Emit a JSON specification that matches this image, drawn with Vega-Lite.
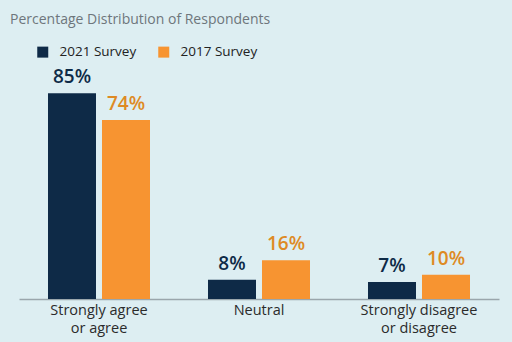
{
  "$schema": "https://vega.github.io/schema/vega-lite/v6.json",
  "width": 480,
  "height": 242,
  "autosize": {"type": "none"},
  "padding": {"left": 19, "top": 57, "right": 13, "bottom": 43},
  "background": "#DDEEF2",
  "title": {
    "text": "Percentage Distribution of Respondents",
    "anchor": "start",
    "frame": "group",
    "dx": -9,
    "offset": 18,
    "font": "Open Sans",
    "fontSize": 14,
    "fontWeight": "normal",
    "color": "#6E767C"
  },
  "data": {
    "values": [
      {"category": "Strongly agree|or agree", "survey": "2021 Survey", "value": 0.85},
      {"category": "Strongly agree|or agree", "survey": "2017 Survey", "value": 0.74},
      {"category": "Neutral", "survey": "2021 Survey", "value": 0.08},
      {"category": "Neutral", "survey": "2017 Survey", "value": 0.16},
      {"category": "Strongly disagree|or disagree", "survey": "2021 Survey", "value": 0.07},
      {"category": "Strongly disagree|or disagree", "survey": "2017 Survey", "value": 0.10}
    ]
  },
  "encoding": {
    "x": {
      "field": "category",
      "type": "nominal",
      "sort": null,
      "scale": {"paddingInner": 0, "paddingOuter": 0},
      "axis": {
        "title": null,
        "labelAngle": 0,
        "labelExpr": "split(datum.value, '|')",
        "labelFont": "Open Sans",
        "labelFontSize": 14.5,
        "labelColor": "#2B2B2B",
        "labelLineHeight": 18,
        "labelPadding": 4,
        "ticks": false,
        "domainColor": "#9AA6AC",
        "domainWidth": 1.5
      }
    },
    "xOffset": {
      "field": "survey",
      "type": "nominal",
      "sort": ["2021 Survey", "2017 Survey"],
      "scale": {"paddingInner": 0.111, "paddingOuter": 0.537}
    },
    "y": {
      "field": "value",
      "type": "quantitative",
      "scale": {"domain": [0, 1]},
      "axis": null
    }
  },
  "layer": [
    {
      "mark": {"type": "bar"},
      "encoding": {
        "color": {
          "field": "survey",
          "type": "nominal",
          "scale": {"domain": ["2021 Survey", "2017 Survey"], "range": ["#0E2A47", "#F79431"]},
          "legend": {
            "title": null,
            "orient": "none",
            "legendX": 17,
            "legendY": -12,
            "direction": "horizontal",
            "symbolType": "square",
            "symbolSize": 121,
            "symbolStrokeWidth": 0,
            "labelFont": "Open Sans",
            "labelFontSize": 13.5,
            "labelColor": "#222222",
            "labelOffset": 10,
            "columnPadding": 20
          }
        }
      }
    },
    {
      "mark": {"type": "text", "baseline": "bottom", "dy": -6, "font": "Open Sans", "fontSize": 19, "fontWeight": 600},
      "encoding": {
        "text": {"field": "value", "type": "quantitative", "format": ".0%"},
        "color": {
          "field": "survey",
          "type": "nominal",
          "scale": {"domain": ["2021 Survey", "2017 Survey"], "range": ["#0E2A47", "#DE8A24"]},
          "legend": null
        }
      }
    }
  ],
  "resolve": {"scale": {"color": "independent"}},
  "config": {"view": {"stroke": null}}
}
